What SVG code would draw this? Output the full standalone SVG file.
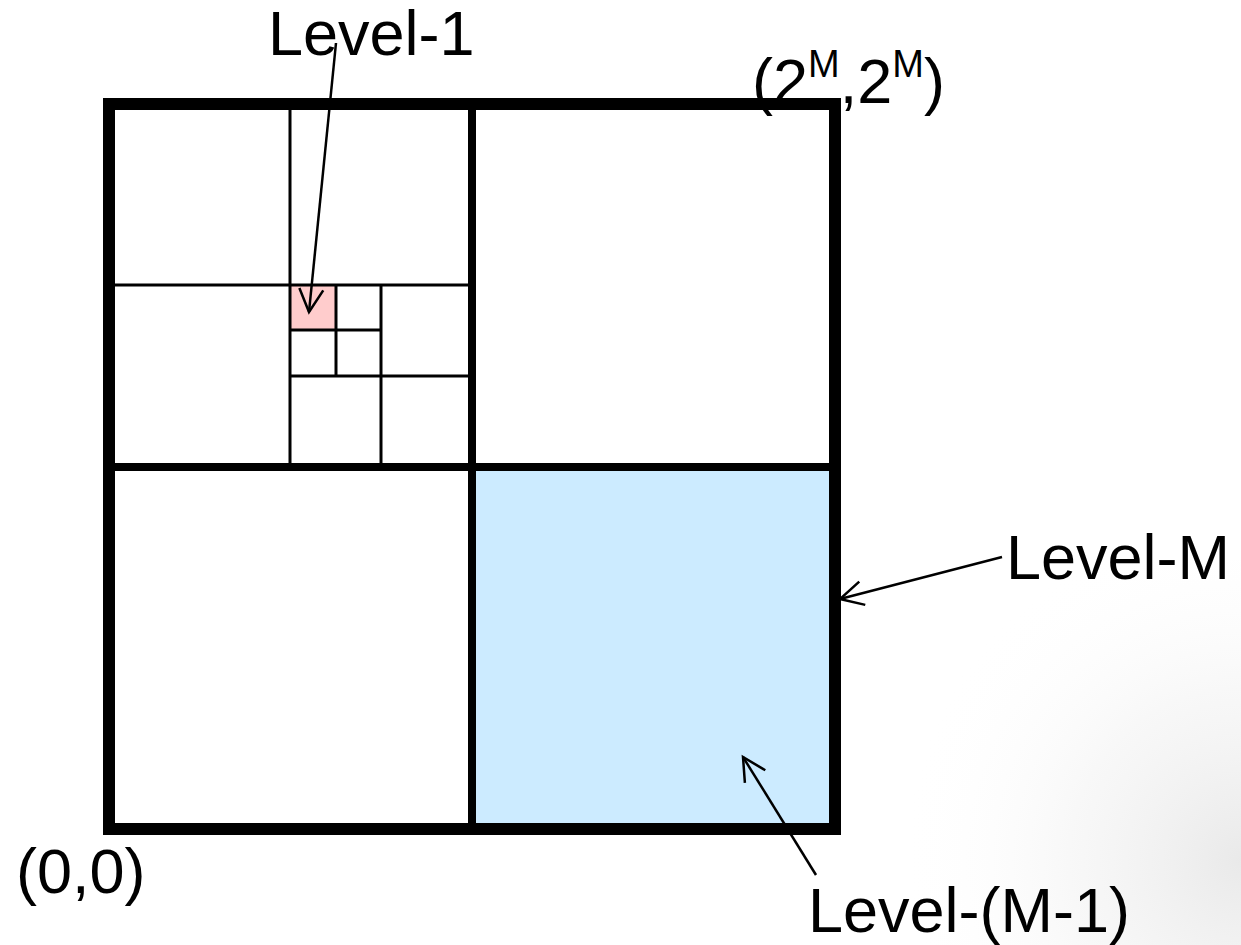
<svg xmlns="http://www.w3.org/2000/svg" width="1241" height="945" viewBox="0 0 1241 945">
  <style>
    .label { font-family: "Liberation Sans", Arial, sans-serif; font-size: 63px; fill: #000; }
    .outer { fill: none; stroke: #000; stroke-width: 12; }
    .half { stroke: #000; stroke-width: 8; }
    .thin { stroke: #000; stroke-width: 3; }
    .lead { stroke: #000; stroke-width: 2.5; fill: none; marker-end: url(#openHead); }
  </style>
  <defs>
    <marker id="openHead" markerUnits="userSpaceOnUse" markerWidth="40" markerHeight="40" refX="0" refY="0" viewBox="-30 -20 40 40" orient="auto" overflow="visible">
      <path d="M -23 -12 L 0 0 L -23 12" fill="none" stroke="#000" stroke-width="2.5"/>
    </marker>
    <radialGradient id="haze" cx="1241" cy="860" r="340" gradientUnits="userSpaceOnUse">
      <stop offset="0" stop-color="#e2e2e2" stop-opacity="0.75"/>
      <stop offset="0.5" stop-color="#efefef" stop-opacity="0.45"/>
      <stop offset="1" stop-color="#ffffff" stop-opacity="0"/>
    </radialGradient>
  </defs>

  <rect width="1241" height="945" fill="#fff"/>
  <rect x="880" y="560" width="361" height="385" fill="url(#haze)"/>

  <!-- quadtree grid -->
  <g id="grid">
    <rect id="cell-level-m1" x="472" y="467" width="363" height="362" fill="#CCEBFF"/>
    <rect id="cell-level-1" x="290" y="285" width="46" height="45" fill="#FFCCCC"/>
    <line class="thin" x1="290" y1="104" x2="290" y2="467"/>
    <line class="thin" x1="109" y1="285" x2="472" y2="285"/>
    <line class="thin" x1="381" y1="285" x2="381" y2="467"/>
    <line class="thin" x1="290" y1="376" x2="472" y2="376"/>
    <line class="thin" x1="336" y1="285" x2="336" y2="376"/>
    <line class="thin" x1="290" y1="330" x2="381" y2="330"/>
    <line class="half" x1="472" y1="104" x2="472" y2="829"/>
    <line class="half" x1="109" y1="467" x2="835" y2="467"/>
    <rect class="outer" x="109" y="104" width="726" height="725"/>
  </g>

  <!-- leader arrows -->
  <g id="connectors">
    <line class="lead" x1="336" y1="43" x2="309" y2="312"/>
    <line class="lead" x1="1002" y1="557" x2="840" y2="599"/>
    <line class="lead" x1="816" y1="875" x2="743" y2="757"/>
  </g>

  <g id="label-level-1"><text class="label" x="268" y="55" font-size="61">Level-1</text></g>
  <g id="label-level-m"><text class="label" x="1006" y="579">Level-M</text></g>
  <g id="label-level-m-1"><text class="label" x="808" y="932">Level-(M-1)</text></g>
  <g id="label-origin"><text class="label" x="16" y="893">(0,0)</text></g>
  <g id="label-corner">
    <text class="label" x="752" y="103" font-size="61">(2<tspan font-size="38" dy="-26">M</tspan><tspan dy="26">,2</tspan><tspan font-size="38" dy="-26">M</tspan><tspan dy="26">)</tspan></text>
  </g>
</svg>
